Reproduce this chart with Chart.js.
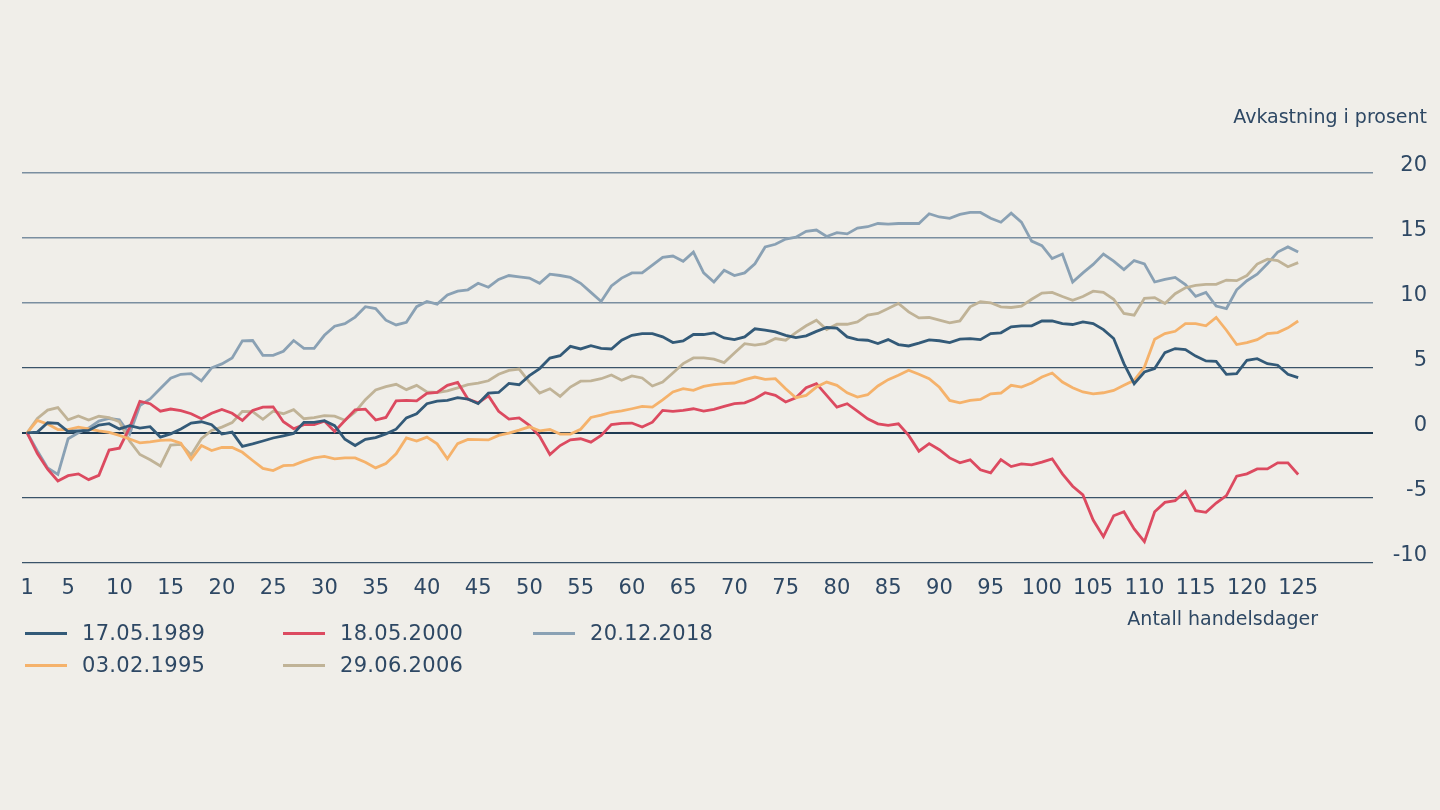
<!DOCTYPE html>
<html>
<head>
<meta charset="utf-8">
<title>Avkastning i prosent</title>
<script src="https://cdn.jsdelivr.net/npm/chart.js@4.4.1/dist/chart.umd.min.js"></script>
<style>
  html, body { margin: 0; padding: 0; background: #f0eee9; }
  #wrap { position: relative; width: 1440px; height: 810px; overflow: hidden; }
  #chart { position: absolute; left: 0; top: 0; }
  #xTitle {
    position: absolute; right: 122px; top: 607px;
    font: 19px 'DejaVu Sans', sans-serif; line-height: 22px; color: #2e4864;
  }
  #legend {
    position: absolute; left: 25px; top: 617px; margin: 0; padding: 0; list-style: none;
    display: grid; grid-auto-flow: column;
    grid-template-rows: 32px 32px; grid-template-columns: 258px 250px 250px;
  }
  #legend li {
    display: flex; align-items: center;
    font: 21px 'DejaVu Sans', sans-serif; letter-spacing: 0.3px; color: #2e4864;
  }
  #legend .swatch { width: 42px; height: 3px; margin-right: 15px; }
</style>
</head>
<body>
<div id="wrap">
  <canvas id="chart" width="1440" height="810"></canvas>
  <div id="xTitle">Antall handelsdager</div>
  <ul id="legend"></ul>
</div>
<script>
// trading days 1..125
const days = Array.from({ length: 125 }, (_, i) => i + 1);
const xTickDays = [1, 5, 10, 15, 20, 25, 30, 35, 40, 45, 50, 55, 60, 65, 70, 75, 80, 85, 90, 95, 100, 105, 110, 115, 120, 125];

const s1989 = [
  0, 0.05, 0.77, 0.72, 0.1, 0.15, 0.18, 0.6, 0.7, 0.3,
  0.55, 0.36, 0.47, -0.33, -0.08, 0.3, 0.75, 0.85, 0.62, -0.1,
  0.05, -1.04, -0.85, -0.63, -0.4, -0.23, -0.05, 0.8, 0.8, 0.93,
  0.55, -0.5, -0.98, -0.5, -0.37, -0.08, 0.28, 1.15, 1.47, 2.24,
  2.44, 2.5, 2.7, 2.6, 2.24, 3.05, 3.1, 3.8, 3.7, 4.4,
  4.94, 5.75, 5.93, 6.65, 6.45, 6.7, 6.5, 6.45, 7.12, 7.5,
  7.63, 7.63, 7.38, 6.94, 7.07, 7.56, 7.56, 7.69, 7.3, 7.17,
  7.38, 8.0, 7.9, 7.76, 7.5, 7.33, 7.46, 7.8, 8.1, 8.05,
  7.38, 7.17, 7.12, 6.86, 7.17, 6.79, 6.68, 6.9, 7.15, 7.08,
  6.94, 7.2, 7.25, 7.17, 7.63, 7.69, 8.15, 8.23, 8.23, 8.6,
  8.6, 8.4, 8.33, 8.53, 8.4, 7.94, 7.25, 5.32, 3.78, 4.68,
  4.94, 6.17, 6.48, 6.4, 5.9, 5.53, 5.5, 4.5, 4.55, 5.58,
  5.7, 5.32, 5.2, 4.5, 4.24
];
const s1995 = [
  0, 0.95, 0.67, 0.25, 0.25, 0.44, 0.3, 0.14, 0.03, -0.2,
  -0.48, -0.77, -0.7, -0.59, -0.55, -0.8, -2.03, -0.98, -1.36, -1.13,
  -1.13, -1.5, -2.13, -2.74, -2.9, -2.53, -2.48, -2.18, -1.93, -1.82,
  -2.0, -1.93, -1.93, -2.26, -2.7, -2.36, -1.62, -0.39, -0.64, -0.33,
  -0.85, -2.0, -0.83, -0.51, -0.52, -0.55, -0.2, -0.03, 0.2, 0.46,
  0.15, 0.25, -0.1, -0.1, 0.27, 1.18, 1.36, 1.58, 1.68, 1.85,
  2.03, 1.98, 2.54, 3.14, 3.39, 3.26, 3.57, 3.7, 3.78, 3.83,
  4.09, 4.29, 4.11, 4.16, 3.39, 2.7, 2.88, 3.52, 3.9, 3.65,
  3.08, 2.75, 2.93, 3.6, 4.09, 4.42, 4.81, 4.5, 4.16, 3.5,
  2.49, 2.31, 2.49, 2.57, 3.0, 3.06, 3.65, 3.52, 3.83, 4.29,
  4.6, 3.9, 3.47, 3.14, 3.0, 3.08, 3.26, 3.65, 4.04, 5.06,
  7.2, 7.63, 7.81, 8.4, 8.4, 8.23, 8.87, 7.89, 6.79, 6.94,
  7.17, 7.63, 7.71, 8.07, 8.6
];
const s2000 = [
  0, -1.6, -2.8, -3.7, -3.3, -3.16, -3.6, -3.27, -1.33, -1.18,
  0.4, 2.42, 2.24, 1.66, 1.83, 1.7, 1.47, 1.08, 1.5, 1.8,
  1.5, 0.95, 1.72, 1.98, 2.0, 0.85, 0.31, 0.63, 0.63, 0.9,
  0.1, 0.95, 1.77, 1.82, 0.98, 1.18, 2.46, 2.49, 2.46, 3.04,
  3.1, 3.65, 3.88, 2.6, 2.3, 2.85, 1.65, 1.05, 1.15, 0.57,
  -0.27, -1.67, -0.98, -0.54, -0.46, -0.72, -0.2, 0.63, 0.73, 0.75,
  0.44, 0.82, 1.72, 1.65, 1.72, 1.85, 1.67, 1.8, 2.03, 2.24,
  2.31, 2.62, 3.08, 2.88, 2.37, 2.7, 3.47, 3.78, 2.88, 1.98,
  2.24, 1.67, 1.08, 0.69, 0.57, 0.69, -0.2, -1.41, -0.83, -1.3,
  -1.93, -2.31, -2.08, -2.85, -3.08, -2.06, -2.6, -2.39, -2.47, -2.26,
  -2.0, -3.16, -4.11, -4.78, -6.71, -7.99, -6.38, -6.07, -7.4, -8.38,
  -6.07, -5.35, -5.22, -4.52, -5.99, -6.12, -5.4, -4.83, -3.34, -3.16,
  -2.78, -2.78, -2.31, -2.31, -3.21
];
const s2006 = [
  0, 1.1, 1.75, 1.94, 1.0, 1.3, 0.98, 1.27, 1.17, 0.85,
  -0.63, -1.67, -2.08, -2.55, -0.94, -0.89, -1.7, -0.46, 0.18, 0.44,
  0.78, 1.65, 1.63, 1.04, 1.66, 1.47, 1.78, 1.08, 1.17, 1.32,
  1.28, 0.97, 1.6, 2.55, 3.29, 3.55, 3.73, 3.32, 3.65, 3.14,
  3.1, 3.23, 3.45, 3.7, 3.83, 4.0, 4.5, 4.8, 4.9, 3.9,
  3.06, 3.39, 2.8, 3.52, 3.97, 4.0, 4.16, 4.45, 4.04, 4.38,
  4.22, 3.6, 3.9, 4.6, 5.32, 5.76, 5.76, 5.66, 5.4, 6.14,
  6.86, 6.74, 6.86, 7.25, 7.12, 7.71, 8.23, 8.66, 7.94, 8.35,
  8.35, 8.53, 9.05, 9.18, 9.56, 9.95, 9.3, 8.84, 8.87, 8.66,
  8.46, 8.61, 9.69, 10.08, 10.0, 9.69, 9.64, 9.74, 10.27, 10.75,
  10.8, 10.48, 10.2, 10.48, 10.89, 10.8, 10.27, 9.18, 9.05, 10.35,
  10.4, 9.95, 10.7, 11.16, 11.34, 11.42, 11.42, 11.75, 11.7, 12.1,
  12.98, 13.36, 13.25, 12.77, 13.09
];
const s2018 = [
  0, -1.4, -2.7, -3.2, -0.46, 0.0, 0.36, 0.9, 1.1, 1.0,
  -0.1, 2.1, 2.6, 3.4, 4.2, 4.5, 4.55, 4.0, 5.0, 5.3,
  5.75, 7.07, 7.1, 5.96, 5.96, 6.27, 7.1, 6.5, 6.5, 7.5,
  8.2, 8.4, 8.9, 9.7, 9.56, 8.66, 8.3, 8.5, 9.7, 10.1,
  9.9, 10.6, 10.9, 11.0, 11.5, 11.2, 11.8, 12.1, 12.0, 11.9,
  11.5, 12.2, 12.1, 11.95, 11.5, 10.8, 10.1, 11.3, 11.9, 12.3,
  12.3, 12.9, 13.5, 13.6, 13.2, 13.9, 12.3, 11.6, 12.5, 12.1,
  12.3, 13.0, 14.3, 14.5, 14.9, 15.05, 15.5, 15.6, 15.1, 15.4,
  15.3, 15.75, 15.85, 16.1, 16.05, 16.1, 16.1, 16.1, 16.85, 16.6,
  16.5, 16.8, 16.95, 16.95, 16.5, 16.2, 16.9, 16.2, 14.75, 14.4,
  13.4, 13.75, 11.6, 12.3, 12.95, 13.75, 13.2, 12.55, 13.25, 13.0,
  11.6, 11.8, 11.95, 11.4, 10.5, 10.8, 9.75, 9.56, 11.0, 11.7,
  12.2, 13.0, 13.9, 14.3, 13.9
];

const textColor = '#2e4864';
Chart.defaults.font.family = "'DejaVu Sans', sans-serif";
Chart.defaults.color = textColor;

// legend drawn as html so it can sit in two rows, column by column
const htmlLegend = {
  id: 'htmlLegend',
  afterUpdate(chart) {
    const ul = document.getElementById('legend');
    ul.innerHTML = '';
    chart.data.datasets.forEach(ds => {
      const li = document.createElement('li');
      const sw = document.createElement('span');
      sw.className = 'swatch';
      sw.style.background = ds.borderColor;
      li.appendChild(sw);
      li.appendChild(document.createTextNode(ds.label));
      ul.appendChild(li);
    });
  }
};

new Chart(document.getElementById('chart'), {
  type: 'line',
  data: {
    labels: days,
    datasets: [
      { label: '17.05.1989', data: s1989, borderColor: '#335a78' },
      { label: '03.02.1995', data: s1995, borderColor: '#f5b26b' },
      { label: '18.05.2000', data: s2000, borderColor: '#dc4a60' },
      { label: '29.06.2006', data: s2006, borderColor: '#c0b397' },
      { label: '20.12.2018', data: s2018, borderColor: '#8aa1b4' }
    ]
  },
  options: {
    responsive: false,
    animation: false,
    layout: { padding: { left: 22, right: 13, top: 0, bottom: 196 } },
    elements: {
      line: { borderWidth: 2.8, tension: 0, fill: false },
      point: { radius: 0, hoverRadius: 0 }
    },
    plugins: {
      legend: { display: false },
      tooltip: { enabled: false },
      title: {
        display: true,
        text: 'Avkastning i prosent',
        align: 'end',
        color: textColor,
        font: { size: 19, weight: 'normal' },
        padding: { top: 107, bottom: 43 }
      }
    },
    scales: {
      x: {
        type: 'linear',
        bounds: 'data',
        min: 0.5,
        max: 132.3,
        afterBuildTicks: scale => { scale.ticks = xTickDays.map(v => ({ value: v })); },
        grid: { display: false, drawTicks: false },
        border: { display: false },
        ticks: {
          autoSkip: false,
          maxRotation: 0,
          padding: 13,
          color: textColor,
          font: { size: 21 },
          callback: v => String(v)
        }
      },
      y: {
        position: 'right',
        min: -10,
        max: 20,
        afterFit: scale => { scale.width = 54; },
        border: { display: false },
        grid: {
          drawTicks: false,
          color: ctx => {
            const v = ctx.tick.value;
            if (v === 0) return '#1e3a52';
            if (v >= 10) return '#7a8ea0';
            return '#3a5369';
          },
          lineWidth: ctx => {
            const v = ctx.tick.value;
            if (v === 0) return 2;
            if (v >= 10) return 1.6;
            return 1.2;
          }
        },
        ticks: {
          stepSize: 5,
          padding: 20,
          crossAlign: 'far',
          labelOffset: -7,
          color: textColor,
          font: { size: 21 }
        }
      }
    }
  },
  plugins: [htmlLegend]
});
</script>
</body>
</html>
